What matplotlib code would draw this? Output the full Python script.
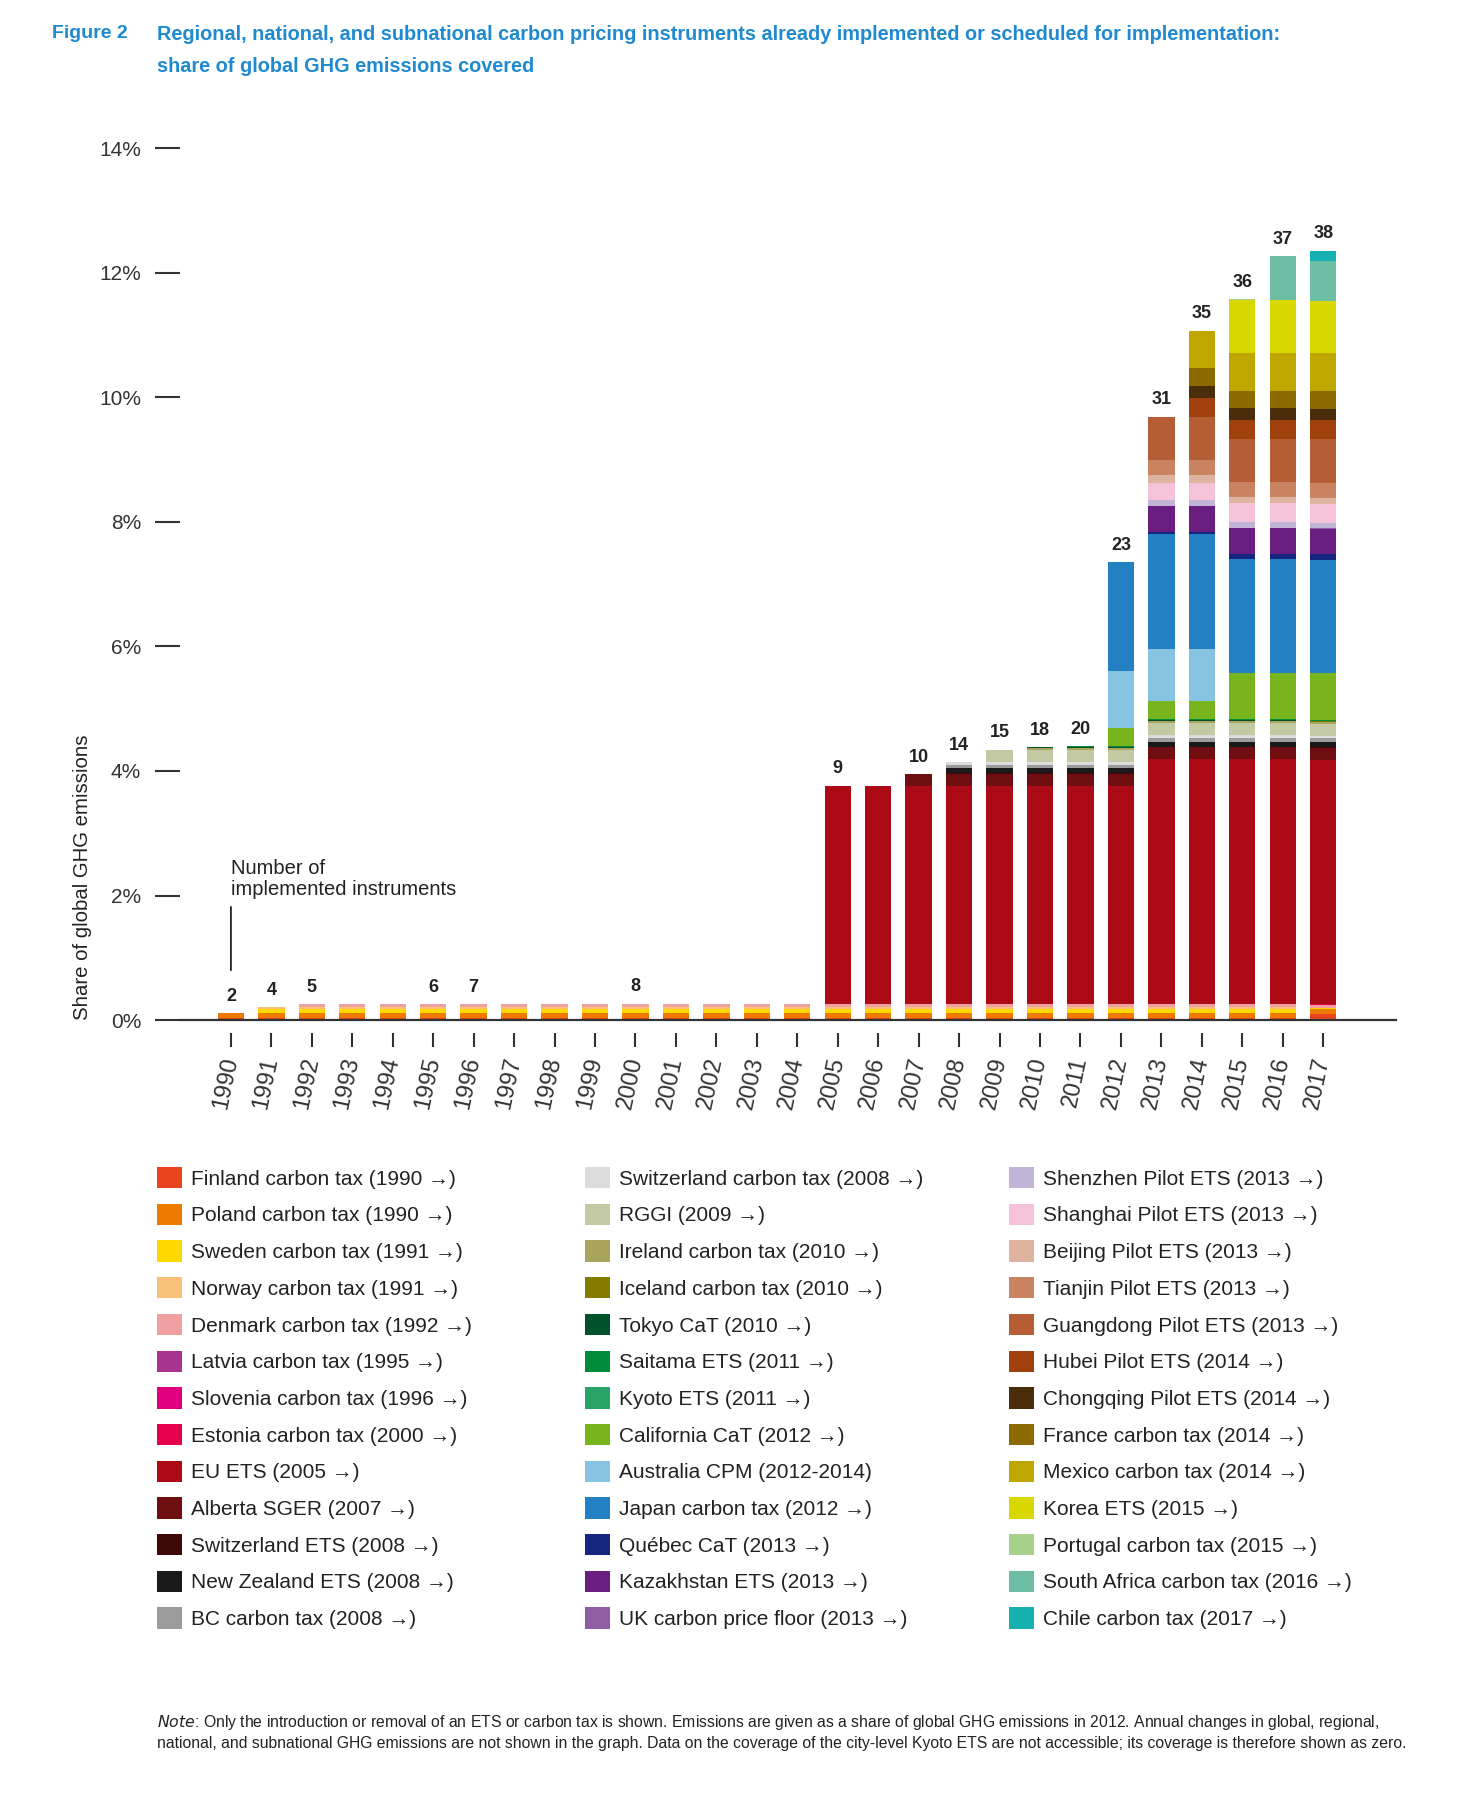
import matplotlib
matplotlib.use("Agg")
import matplotlib.pyplot as plt
import numpy as np

plt.rcParams['font.family'] = ['Liberation Sans', 'DejaVu Sans']

# Years on the x axis
years = list(range(1990, 2018))

# Coverage of each instrument, share of global GHG emissions (%), 1990..2017
finland = [0.04] * 27 + [0.10]
poland = [0.07] * 27 + [0.08]
sweden = [0] + [0.06] * 26 + [0.01]
norway = [0] + [0.04] * 26 + [0.01]
denmark = [0, 0] + [0.045] * 26
latvia = [0] * 5 + [0.002] * 23
slovenia = [0] * 6 + [0.002] * 22
estonia = [0] * 10 + [0.002] * 18
eu_ets = [0] * 15 + [3.50] * 8 + [3.93] * 5
alberta = [0] * 17 + [0.19] * 11
swiss_ets = [0] * 18 + [0.01] * 10
nz_ets = [0] * 18 + [0.08] * 10
bc_tax = [0] * 18 + [0.06] * 10
swiss_tax = [0] * 18 + [0.04] * 10
rggi = [0] * 19 + [0.20] * 9
ireland = [0] * 20 + [0.03] * 8
iceland = [0] * 20 + [0.005] * 8
tokyo = [0] * 20 + [0.01] * 8
saitama = [0] * 21 + [0.01] * 7
kyoto = [0] * 28
california = [0] * 22 + [0.30, 0.30, 0.30, 0.75, 0.75, 0.75]
australia = [0] * 22 + [0.91, 0.83, 0.83, 0, 0, 0]
japan = [0] * 22 + [1.75, 1.85, 1.85, 1.82, 1.82, 1.82]
quebec = [0] * 23 + [0.03, 0.03, 0.09, 0.09, 0.09]
kazakhstan = [0] * 23 + [0.41] * 5
uk_floor = [0] * 23 + [0.01] * 5
shenzhen = [0] * 23 + [0.10, 0.10, 0.09, 0.09, 0.09]
shanghai = [0] * 23 + [0.26, 0.26, 0.30, 0.30, 0.30]
beijing = [0] * 23 + [0.13, 0.13, 0.10, 0.10, 0.10]
tianjin = [0] * 23 + [0.25, 0.25, 0.24, 0.24, 0.24]
guangdong = [0] * 23 + [0.69, 0.69, 0.70, 0.70, 0.70]
hubei = [0] * 24 + [0.30] * 4
chongqing = [0] * 24 + [0.19] * 4
france = [0] * 24 + [0.30, 0.28, 0.28, 0.28]
mexico = [0] * 24 + [0.59, 0.61, 0.61, 0.61]
korea = [0] * 25 + [0.85, 0.84, 0.84]
portugal = [0] * 25 + [0.005] * 3
south_africa = [0] * 26 + [0.70, 0.64]
chile = [0] * 27 + [0.16]

# Number of implemented instruments printed above some bars
counts = [2, 4, 5, None, None, 6, 7, None, None, None, 8, None, None, None,
          None, 9, None, 10, 14, 15, 18, 20, 23, 31, 35, 36, 37, 38]

labels = [
    'Finland carbon tax (1990 →)', 'Poland carbon tax (1990 →)',
    'Sweden carbon tax (1991 →)', 'Norway carbon tax (1991 →)',
    'Denmark carbon tax (1992 →)', 'Latvia carbon tax (1995 →)',
    'Slovenia carbon tax (1996 →)', 'Estonia carbon tax (2000 →)',
    'EU ETS (2005 →)', 'Alberta SGER (2007 →)', 'Switzerland ETS (2008 →)',
    'New Zealand ETS (2008 →)', 'BC carbon tax (2008 →)',
    'Switzerland carbon tax (2008 →)', 'RGGI (2009 →)',
    'Ireland carbon tax (2010 →)', 'Iceland carbon tax (2010 →)',
    'Tokyo CaT (2010 →)', 'Saitama ETS (2011 →)', 'Kyoto ETS (2011 →)',
    'California CaT (2012 →)', 'Australia CPM (2012-2014)',
    'Japan carbon tax (2012 →)', 'Québec CaT (2013 →)',
    'Kazakhstan ETS (2013 →)', 'UK carbon price floor (2013 →)',
    'Shenzhen Pilot ETS (2013 →)', 'Shanghai Pilot ETS (2013 →)',
    'Beijing Pilot ETS (2013 →)', 'Tianjin Pilot ETS (2013 →)',
    'Guangdong Pilot ETS (2013 →)', 'Hubei Pilot ETS (2014 →)',
    'Chongqing Pilot ETS (2014 →)', 'France carbon tax (2014 →)',
    'Mexico carbon tax (2014 →)', 'Korea ETS (2015 →)',
    'Portugal carbon tax (2015 →)', 'South Africa carbon tax (2016 →)',
    'Chile carbon tax (2017 →)',
]

colors = [
    '#e8451e', '#ee7b00', '#ffd800', '#f9c077', '#f0a0a0', '#a8348f',
    '#e0007f', '#e5004d', '#ad0a18', '#6e0e10', '#3f0808', '#1a1a1a',
    '#9b9b9b', '#dcdcdc', '#c3c9a2', '#a9a55c', '#857a00', '#00522a',
    '#008c3a', '#29a36a', '#78b41e', '#86c4e2', '#2380c3', '#14267f',
    '#6b1e82', '#8e5da3', '#c2b4d6', '#f4c2d9', '#deb4a0', '#c98361',
    '#b55e35', '#a0400c', '#4a2d0a', '#8c6a00', '#bfa600', '#d8d800',
    '#a8d08d', '#6cbda3', '#15b0b0',
]

series = [finland, poland, sweden, norway, denmark, latvia, slovenia, estonia,
          eu_ets, alberta, swiss_ets, nz_ets, bc_tax, swiss_tax, rggi,
          ireland, iceland, tokyo, saitama, kyoto, california, australia,
          japan, quebec, kazakhstan, uk_floor, shenzhen, shanghai, beijing,
          tianjin, guangdong, hubei, chongqing, france, mexico, korea,
          portugal, south_africa, chile]

blue = '#1f8ad2'
dark = '#222222'

fig = plt.figure(figsize=(14.81, 18.01), dpi=100)
ax = fig.add_axes([0.1215, 0.4336, 0.8211, 0.4842])

x = np.arange(len(years))
bottom = np.zeros(len(years))
handles = []
for vals, col, lab in zip(series, colors, labels):
    vals = np.array(vals, dtype=float)
    b = ax.bar(x, vals, width=0.65, bottom=bottom, color=col, label=lab,
               linewidth=0)
    bottom += vals
    handles.append(b)

# Instrument counts above bars
for i, c in enumerate(counts):
    if c is not None:
        ax.annotate(str(c), (x[i], bottom[i]), xytext=(0, 6),
                    textcoords='offset points', ha='center', va='bottom',
                    fontsize=13, fontweight='bold', color=dark)

ax.annotate('Number of\nimplemented instruments', xy=(x[0], 0.8),
            xytext=(x[0], 1.95), ha='left', va='bottom', fontsize=14.5,
            color=dark, linespacing=1.1,
            arrowprops=dict(arrowstyle='-', color=dark, lw=1.3,
                            relpos=(0, 0), shrinkA=4, shrinkB=0))

ax.set_xlim(-1.26, 28.8)
ax.set_ylim(0, 14)
ax.set_yticks(np.arange(0, 15, 2))
ax.set_yticklabels([f'{v}%' for v in range(0, 15, 2)])
ax.set_xticks(x)
ax.set_xticklabels([str(y) for y in years], rotation=78, ha='right',
                   va='center', rotation_mode='anchor')
ax.tick_params(axis='y', direction='out', length=18, width=1.5,
               color='#333333', pad=10, labelsize=15, labelcolor='#333333')
ax.tick_params(axis='x', length=0, pad=27, labelsize=17,
               labelcolor='#333333')
ax.vlines(x, -0.015, -0.031, transform=ax.get_xaxis_transform(),
          color='#333333', lw=1.5, clip_on=False)

for s in ['top', 'right', 'left']:
    ax.spines[s].set_visible(False)
ax.spines['bottom'].set_linewidth(1.6)
ax.spines['bottom'].set_color('#333333')

fig.text(0.056, 0.4336, 'Share of global GHG emissions', rotation=90,
         ha='center', va='bottom', fontsize=14.7, color=dark)

# Title
fig.text(52 / 1481, 1 - 34 / 1801, 'Figure 2', color=blue, fontsize=14,
         fontweight='bold', va='center')
fig.text(157 / 1481, 1 - 34 / 1801,
         'Regional, national, and subnational carbon pricing instruments '
         'already implemented or scheduled for implementation:',
         color=blue, fontsize=14.3, fontweight='bold', va='center')
fig.text(157 / 1481, 1 - 67 / 1801, 'share of global GHG emissions covered',
         color=blue, fontsize=14.3, fontweight='bold', va='center')

# Legend in three columns
col_x = [157 / 1481, 585 / 1481, 1009 / 1481]
for k in range(3):
    fig.legend(handles[k * 13:(k + 1) * 13], labels[k * 13:(k + 1) * 13],
               loc='upper left', bbox_to_anchor=(col_x[k], 1 - 1167 / 1801),
               frameon=False, borderpad=0, borderaxespad=0,
               handlelength=1.2, handleheight=1.2, handletextpad=0.45,
               labelspacing=0.72, fontsize=15, labelcolor=dark)

note = (r'$\it{Note}$: Only the introduction or removal of an ETS or carbon tax is shown. '
        'Emissions are given as a share of global GHG emissions in 2012. '
        'Annual changes in global, regional,\n'
        'national, and subnational GHG emissions are not shown in the graph. '
        'Data on the coverage of the city-level Kyoto ETS are not accessible; '
        'its coverage is therefore shown as zero.')
fig.text(157 / 1481, 1 - 1713 / 1801, note, va='top', ha='left',
         fontsize=11.3, color=dark, linespacing=1.35)

fig.savefig('out.png', dpi=100)
